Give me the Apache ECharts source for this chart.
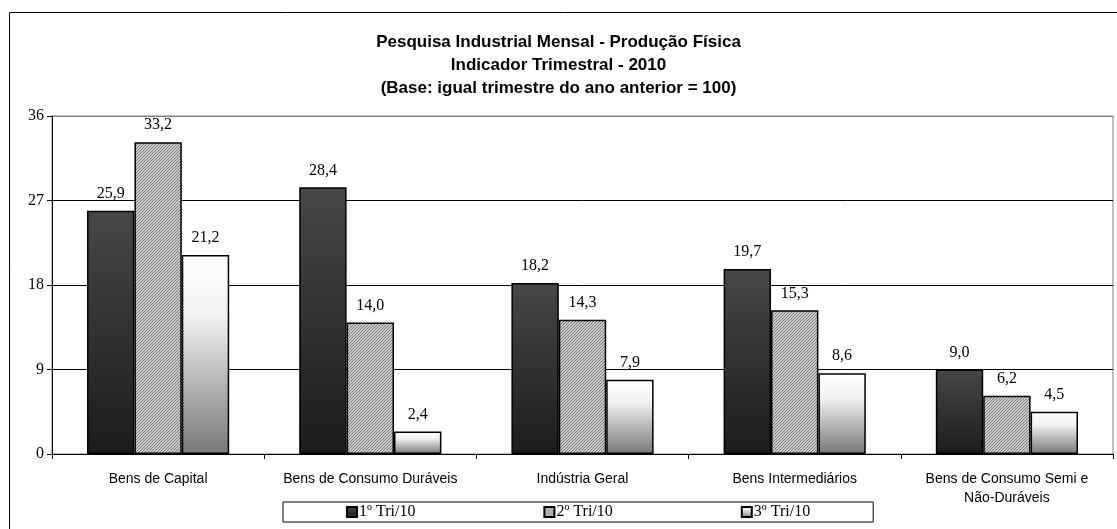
<!DOCTYPE html>
<html>
<head>
<meta charset="utf-8">
<script src="https://cdn.jsdelivr.net/npm/echarts@6/dist/echarts.min.js"></script>
<style>
  html, body { margin: 0; padding: 0; background: #fff; }
  #chart { width: 1117px; height: 529px; }
</style>
</head>
<body>
<div id="chart"></div>
<script>
// dados
var categorias = ['Bens de Capital', 'Bens de Consumo Duráveis', 'Indústria Geral', 'Bens Intermediários', 'Bens de Consumo Semi e\nNão-Duráveis'];
var tri1 = [25.9, 28.4, 18.2, 19.7, 9.0];
var tri2 = [33.2, 14.0, 14.3, 15.3, 6.2];
var tri3 = [21.2, 2.4, 7.9, 8.6, 4.5];
var nomes = ['1º Tri/10', '2º Tri/10', '3º Tri/10'];

// textura hachurada
function hachura() {
  var c = document.createElement('canvas');
  c.width = 3; c.height = 3;
  var ctx = c.getContext('2d');
  ctx.fillStyle = '#cccccc';
  ctx.fillRect(0, 0, 3, 3);
  ctx.fillStyle = '#7a7a7a';
  for (var x = 0; x < 3; x++) {
    for (var y = 0; y < 3; y++) {
      if ((x + y) % 3 == 2) ctx.fillRect(x, y, 1, 1);
    }
  }
  return c;
}

function rotulo(p) {
  return p.value.toFixed(1).replace('.', ',');
}

var labelCfg = {
  show: true,
  position: 'top',
  distance: 9,
  formatter: rotulo,
  color: '#000',
  fontFamily: 'Liberation Serif, Times New Roman, serif',
  fontSize: 16
};

var chart = echarts.init(document.getElementById('chart'));
var option = {
  animation: false,
  backgroundColor: '#fff',
  title: {
    text: 'Pesquisa Industrial Mensal - Produção Física\nIndicador Trimestral - 2010\n(Base: igual trimestre do ano anterior = 100)',
    left: 'center',
    top: 26,
    textStyle: {
      fontFamily: 'Liberation Sans, Arial, sans-serif',
      fontSize: 17,
      fontWeight: 'bold',
      color: '#000',
      lineHeight: 23
    }
  },
  graphic: [{
    type: 'rect',
    shape: { x: 9.5, y: 12.5, width: 1200, height: 600 },
    style: { fill: 'none', stroke: '#000', lineWidth: 1 },
    silent: true
  }],
  legend: {
    data: nomes,
    left: 283,
    top: 502,
    padding: [2, 63, 2, 63],
    itemGap: 128,
    itemWidth: 10,
    itemHeight: 10,
    borderColor: '#000',
    borderWidth: 1,
    icon: 'rect',
    textStyle: {
      fontFamily: 'Liberation Serif, Times New Roman, serif',
      fontSize: 16,
      color: '#000',
      padding: [0, 0, 0, -3]
    }
  },
  grid: {
    left: 52,
    top: 116,
    right: 4,
    bottom: 75,
    show: true,
    borderColor: '#808080',
    borderWidth: 1
  },
  xAxis: {
    type: 'category',
    data: categorias,
    axisLine: { lineStyle: { color: '#000', width: 1 } },
    axisTick: { show: true, length: 5, lineStyle: { color: '#000' } },
    axisLabel: {
      interval: 0,
      margin: 16,
      color: '#000',
      fontFamily: 'Liberation Sans, Arial, sans-serif',
      fontSize: 14,
      lineHeight: 19
    }
  },
  yAxis: {
    type: 'value',
    min: 0,
    max: 36,
    interval: 9,
    axisLine: { show: true, lineStyle: { color: '#000', width: 1 } },
    axisTick: { show: true, length: 5, lineStyle: { color: '#000' } },
    axisLabel: {
      margin: 8,
      color: '#000',
      fontFamily: 'Liberation Serif, Times New Roman, serif',
      fontSize: 16
    },
    splitLine: {
      show: true,
      lineStyle: { color: ['#000', '#000', '#000', '#000', '#808080'], width: 1 }
    }
  },
  series: [
    {
      name: nomes[0],
      type: 'bar',
      data: tri1,
      barGap: 0,
      barCategoryGap: '33%',
      label: labelCfg,
      itemStyle: {
        borderColor: '#000',
        borderWidth: 1.5,
        color: new echarts.graphic.LinearGradient(0, 0, 0, 1, [
          { offset: 0, color: '#474747' },
          { offset: 1, color: '#1c1c1c' }
        ])
      }
    },
    {
      name: nomes[1],
      type: 'bar',
      data: tri2,
      label: labelCfg,
      itemStyle: {
        borderColor: '#000',
        borderWidth: 1.5,
        color: { image: hachura(), repeat: 'repeat' }
      }
    },
    {
      name: nomes[2],
      type: 'bar',
      data: tri3,
      label: labelCfg,
      itemStyle: {
        borderColor: '#000',
        borderWidth: 1.5,
        color: new echarts.graphic.LinearGradient(0, 0, 0, 1, [
          { offset: 0, color: '#ffffff' },
          { offset: 0.3, color: '#f2f2f2' },
          { offset: 1, color: '#777777' }
        ])
      }
    }
  ]
};
chart.setOption(option);

window.addEventListener('resize', function () {
  chart.resize();
});
</script>
</body>
</html>
